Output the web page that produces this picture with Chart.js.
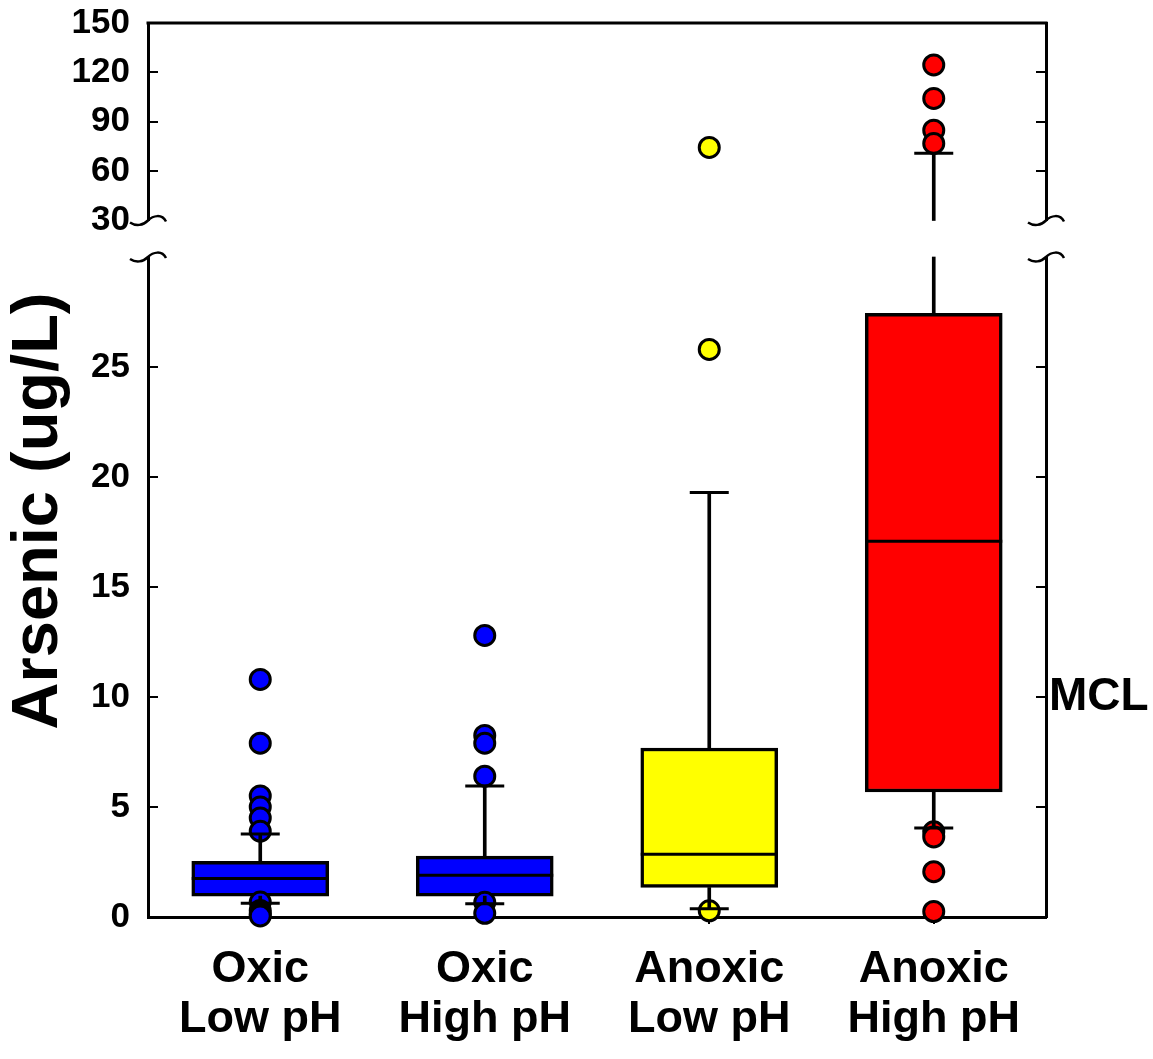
<!DOCTYPE html>
<html><head><meta charset="utf-8">
<script src="https://cdn.jsdelivr.net/npm/chart.js@4.4.0/dist/chart.umd.min.js"></script>
<style>html,body{margin:0;padding:0;background:#fff}#wrap{width:1153px;height:1059px;position:relative}</style>
</head><body><div id="wrap"><canvas id="c"></canvas></div>
<script>
// ---- data ----
const categoryLines = [['Oxic','Low pH'],['Oxic','High pH'],['Anoxic','Low pH'],['Anoxic','High pH']];
const boxColors = ['#0000FF','#0000FF','#FFFF00','#FF0000'];
const whiskerLow  = [0.63, 0.60, 0.37, 4.05];
const q1          = [0.95, 0.95, 1.34, 5.68];
const median      = [1.75, 1.90, 2.85, 17.08];
const q3          = [2.53, 2.77, 7.68, 27.44];
const whiskerHigh = [3.77, 5.96, 19.30, 70.8];
const outliersOxicLow    = [10.8, 7.9, 5.5, 5.0, 4.5, 3.9, 0.68, 0.3, 0.15, 0.05];
const outliersOxicHigh   = [12.8, 8.25, 7.9, 6.4, 0.67, 0.17];
const outliersAnoxicLow  = [74.4, 25.8, 0.28];
const outliersAnoxicHigh = [124.5, 104.2, 84.9, 76.8, 3.87, 3.64, 2.06, 0.25];
const lowerTicks = [0, 5, 10, 15, 20, 25];
const upperTicks = [30, 60, 90, 120, 150];
const breakValue = 30;
const topValue = 150;
const mclValue = 10;
const mclLabel = 'MCL';
const yTitleText = 'Arsenic (ug/L)';

// ---- derived ----
const labels = categoryLines.map(l => l.join(' '));
const outliers = [outliersOxicLow, outliersOxicHigh, outliersAnoxicLow, outliersAnoxicHigh];
const FONT = "'Liberation Sans', Arial, Helvetica, sans-serif";

const pointBase = {type: 'line', showLine: false, clip: false, xAxisID: 'x'};
const datasets = [];

datasets.push(Object.assign({}, pointBase, {
  order: 0, yAxisID: 'yLow',
  data: labels.flatMap((l, i) => [{x: l, y: whiskerLow[i]}].concat(whiskerHigh[i] <= breakValue ? [{x: l, y: whiskerHigh[i]}] : [])),
  pointStyle: 'line', pointRadius: 19.5, pointHoverRadius: 19.5, pointBorderWidth: 3, pointBorderColor: '#000'
}));
datasets.push(Object.assign({}, pointBase, {
  order: 0, yAxisID: 'yHigh',
  data: labels.flatMap((l, i) => whiskerHigh[i] > breakValue ? [{x: l, y: whiskerHigh[i]}] : []),
  pointStyle: 'line', pointRadius: 19.5, pointHoverRadius: 19.5, pointBorderWidth: 3, pointBorderColor: '#000'
}));
const whiskerBase = {type: 'bar', grouped: false, barThickness: 3, backgroundColor: '#000', borderWidth: 0, xAxisID: 'x', order: 1};
datasets.push(Object.assign({}, whiskerBase, {yAxisID: 'yLow', data: labels.map((l, i) => [whiskerLow[i], q1[i]])}));
datasets.push(Object.assign({}, whiskerBase, {yAxisID: 'yLow', data: labels.map((l, i) => [q3[i], Math.min(whiskerHigh[i], breakValue)])}));
datasets.push(Object.assign({}, whiskerBase, {yAxisID: 'yHigh', data: labels.map((l, i) => whiskerHigh[i] > breakValue ? [breakValue, whiskerHigh[i]] : null)}));
outliers.forEach((vals, i) => {
  const low = vals.filter(v => v <= breakValue).map(v => ({x: labels[i], y: v}));
  const high = vals.filter(v => v > breakValue).map(v => ({x: labels[i], y: v}));
  [[low, 'yLow'], [high, 'yHigh']].forEach(([d, ax]) => {
    if (!d.length) return;
    datasets.push(Object.assign({}, pointBase, {
      order: 2, yAxisID: ax, data: d,
      pointStyle: 'circle', pointRadius: 10, pointHoverRadius: 10, pointBorderWidth: 3,
      pointBorderColor: '#000', pointBackgroundColor: boxColors[i]
    }));
  });
});
datasets.push(Object.assign({}, pointBase, {
  order: 3, yAxisID: 'yLow',
  data: labels.map((l, i) => ({x: l, y: median[i]})),
  pointStyle: 'line', pointRadius: 68.5, pointHoverRadius: 68.5, pointBorderWidth: 3, pointBorderColor: '#000'
}));
datasets.push({
  type: 'bar', grouped: false, barThickness: 137, order: 4, xAxisID: 'x', yAxisID: 'yLow',
  data: labels.map((l, i) => [q1[i], q3[i]]),
  backgroundColor: boxColors, borderColor: '#000', borderWidth: 3.5, borderSkipped: false
});

function fixWidth(w) {
  return s => { s.width = w; s.paddingTop = 0; s.paddingBottom = 0; s.paddingLeft = 0; s.paddingRight = 0; };
}
const noGrid = {display: false};
const axisBorder = {display: true, width: 3, color: '#000'};
const tickFont = {family: FONT, size: 35, weight: 'bold'};

function drawTilde(ctx, x, y) {
  ctx.beginPath();
  ctx.moveTo(x - 18, y + 2);
  ctx.bezierCurveTo(x - 12, y + 6, x - 5, y + 5, x, y);
  ctx.bezierCurveTo(x + 5, y - 5, x + 14, y - 7, x + 18, y + 1);
  ctx.stroke();
}

const framePlugin = {
  id: 'frame',
  afterDraw(chart) {
    const {ctx, chartArea: ca, scales} = chart;
    ctx.save();
    ctx.strokeStyle = '#000';
    ctx.lineWidth = 3;
    ctx.beginPath(); ctx.moveTo(ca.left - 1.5, ca.top); ctx.lineTo(ca.right + 1.5, ca.top); ctx.stroke();
    ctx.lineWidth = 2;
    [scales.yLow, scales.yHigh].forEach(s => {
      s.ticks.forEach(t => {
        if (t.value <= s.min || t.value >= s.max) return;
        const y = Math.round(s.getPixelForValue(t.value));
        ctx.beginPath();
        ctx.moveTo(ca.left, y); ctx.lineTo(ca.left + 10, y);
        ctx.moveTo(ca.right, y); ctx.lineTo(ca.right - 10, y);
        ctx.stroke();
      });
    });
    ctx.lineWidth = 2.5;
    [ca.left, ca.right].forEach(x => {
      [scales.yHigh.bottom, scales.yLow.top].forEach(y => drawTilde(ctx, x, y));
    });
    ctx.restore();
  }
};

const hiddenAxis = (extra) => Object.assign({
  type: 'linear', display: true, clip: false, grid: noGrid, border: {display: false},
  ticks: {display: false}
}, extra);

new Chart(document.getElementById('c'), {
  type: 'bar',
  data: {labels: labels, datasets: datasets},
  plugins: [framePlugin],
  options: {
    responsive: true, maintainAspectRatio: false, animation: false, events: [],
    layout: {autoPadding: false, padding: {top: 23, left: 0, right: 0, bottom: 0}},
    plugins: {legend: {display: false}, tooltip: {enabled: false}},
    scales: {
      x: {
        type: 'category', offset: true, clip: false,
        grid: {display: true, drawOnChartArea: false, drawTicks: true, tickLength: 7, color: '#000', lineWidth: 2, offset: false},
        border: axisBorder,
        ticks: {color: '#000', padding: 21, maxRotation: 0, autoSkip: false,
                font: {family: FONT, size: 45, weight: 'bold', lineHeight: 50 / 45},
                callback: (v, i) => categoryLines[i]},
        afterFit: s => { s.height = 142; s.paddingLeft = 0; s.paddingRight = 0; s.paddingTop = 0; s.paddingBottom = 0; }
      },
      yLow: {
        type: 'linear', position: 'left', stack: 'left', stackWeight: 660, clip: false,
        min: 0, max: breakValue, grid: Object.assign({}, noGrid, {drawTicks: false}), border: axisBorder,
        afterBuildTicks: s => { s.ticks = lowerTicks.map(v => ({value: v})); },
        ticks: {color: '#000', padding: 18, font: tickFont, autoSkip: false},
        afterFit: fixWidth(75)
      },
      yGap: hiddenAxis({position: 'left', stack: 'left', stackWeight: 36.5, afterFit: fixWidth(75)}),
      yHigh: {
        type: 'linear', position: 'left', stack: 'left', stackWeight: 197.5, clip: false,
        min: breakValue, max: topValue, grid: Object.assign({}, noGrid, {drawTicks: false}), border: axisBorder,
        afterBuildTicks: s => { s.ticks = upperTicks.map(v => ({value: v})); },
        ticks: {color: '#000', padding: 18, font: tickFont, autoSkip: false},
        afterFit: fixWidth(75)
      },
      yTitle: hiddenAxis({position: 'left', stack: 'title', stackWeight: 812,
        title: {display: true, text: yTitleText, color: '#000', padding: 0,
                font: {family: FONT, size: 65, weight: 'bold', lineHeight: 1.2}},
        afterFit: fixWidth(73)}),
      yTitlePad: hiddenAxis({position: 'left', stack: 'title', stackWeight: 82, afterFit: fixWidth(73)}),
      yHighR: {
        type: 'linear', position: 'right', stack: 'right', stackWeight: 197.5, clip: false,
        min: breakValue, max: topValue, grid: Object.assign({}, noGrid, {drawTicks: false}), border: axisBorder,
        ticks: {display: false}, afterFit: fixWidth(107)
      },
      yGapR: hiddenAxis({position: 'right', stack: 'right', stackWeight: 36.5, afterFit: fixWidth(107)}),
      yLowR: {
        type: 'linear', position: 'right', stack: 'right', stackWeight: 660, clip: false,
        min: 0, max: breakValue, grid: Object.assign({}, noGrid, {drawTicks: false}), border: axisBorder,
        afterBuildTicks: s => { s.ticks = [{value: mclValue}]; },
        ticks: {color: '#000', padding: 3, font: {family: FONT, size: 46, weight: 'bold'}, autoSkip: false,
                callback: v => v === mclValue ? mclLabel : ''},
        afterFit: fixWidth(107)
      }
    }
  }
});
</script>
</body></html>
